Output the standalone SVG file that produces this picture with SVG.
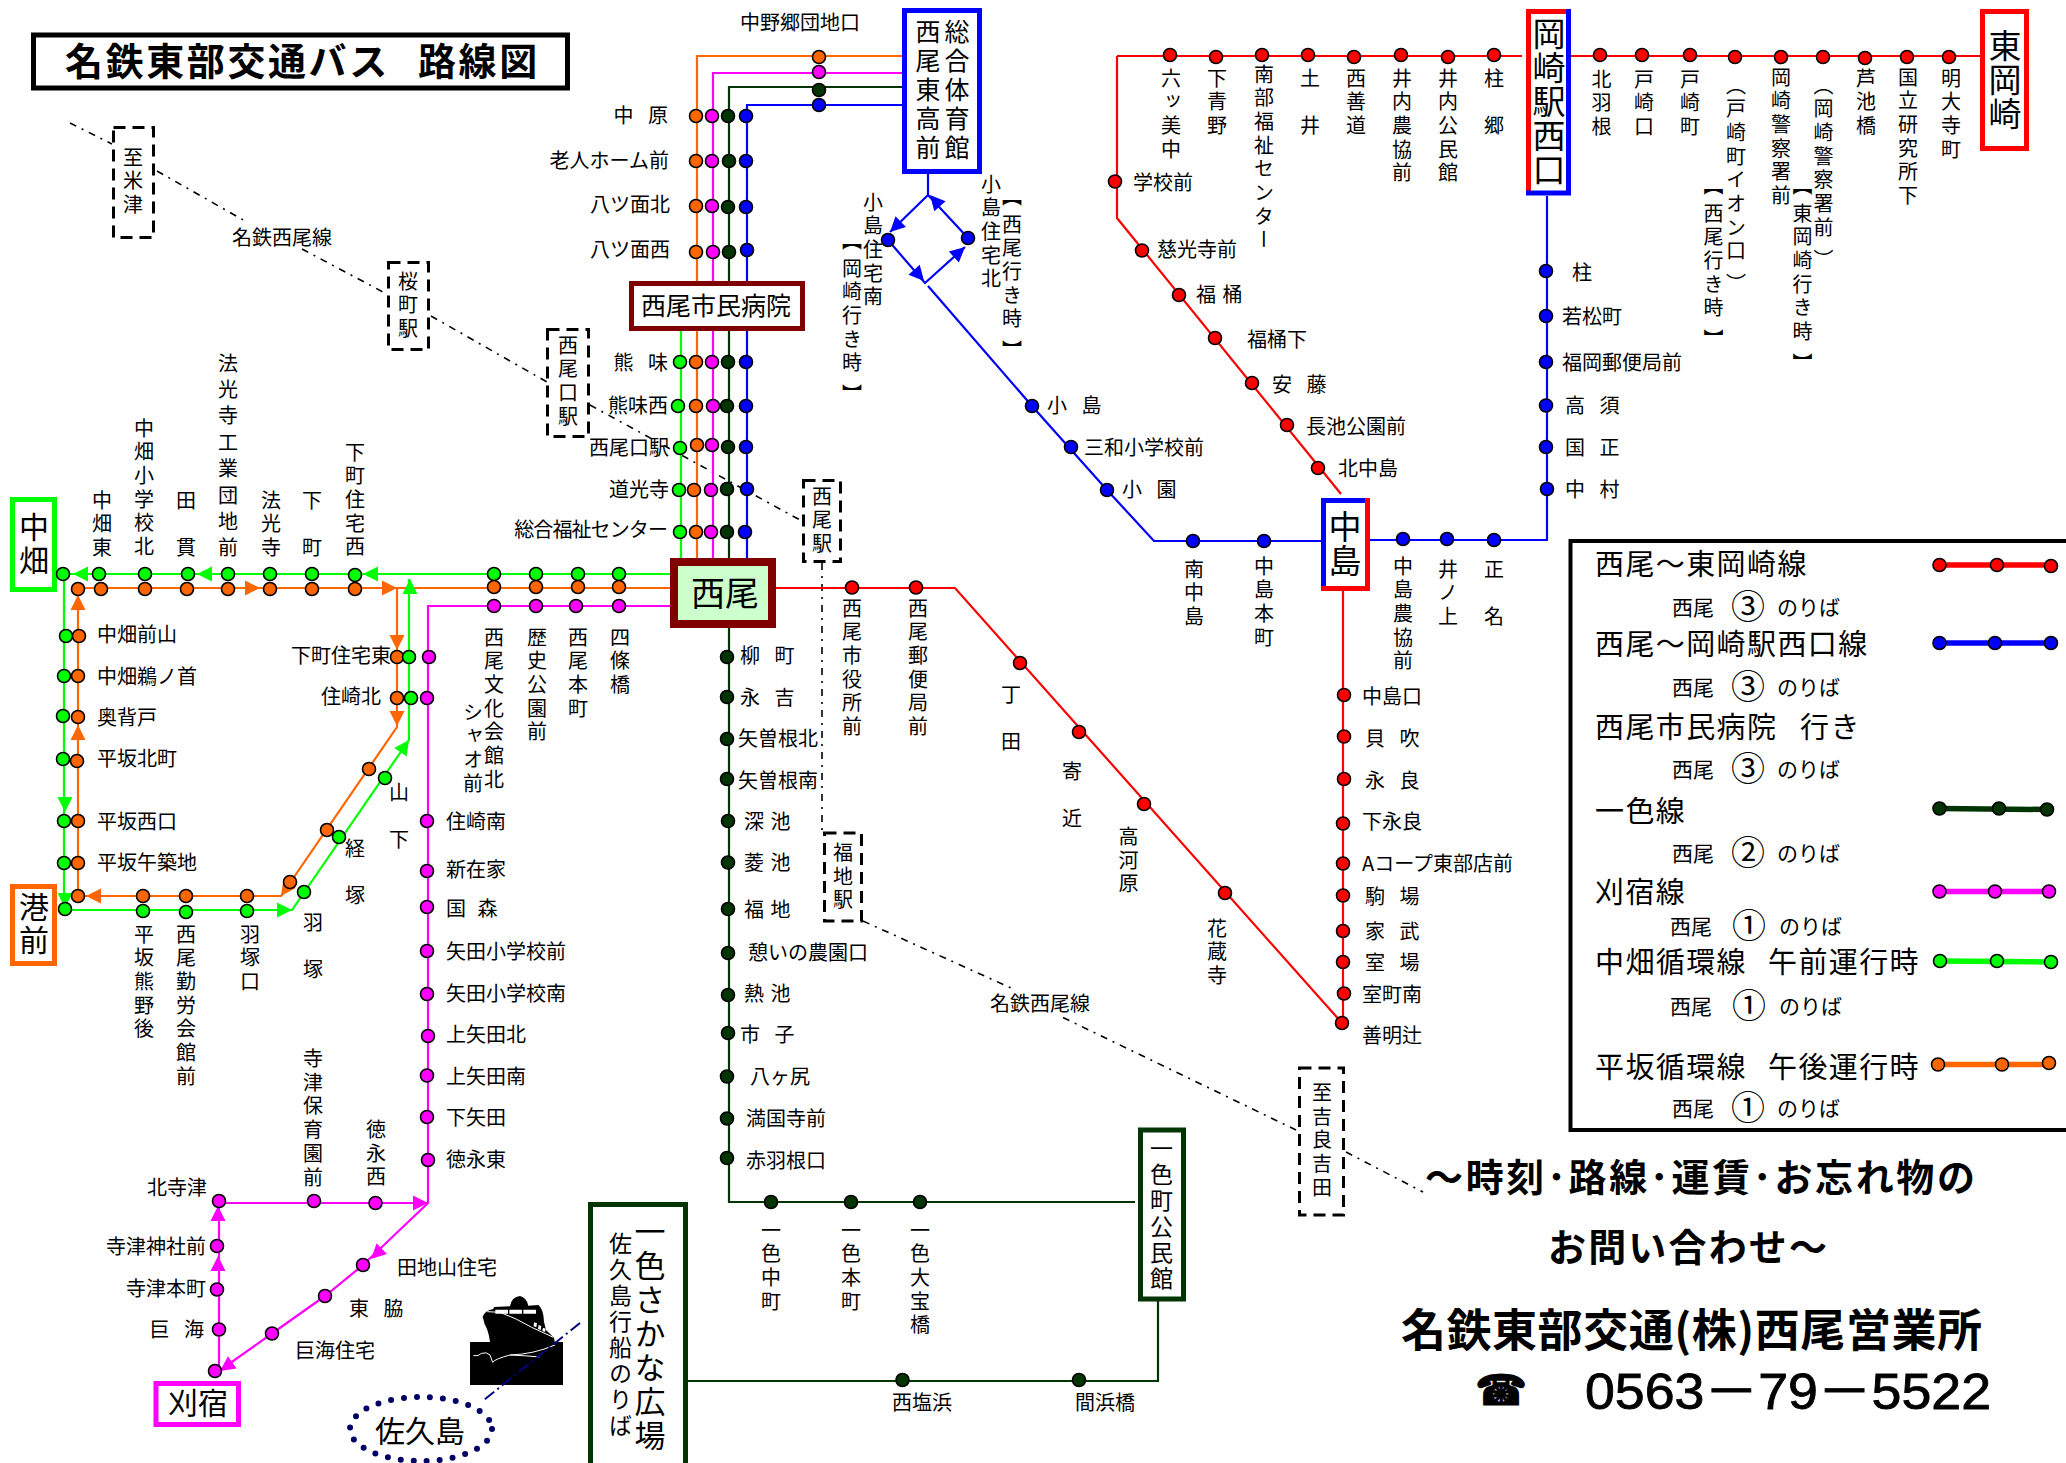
<svg xmlns="http://www.w3.org/2000/svg" width="2066" height="1463" viewBox="0 0 2066 1463">
<style>
text{font-family:"Noto Sans CJK JP","Noto Sans CJK SC",sans-serif;fill:#000;font-size:20px}
.v{writing-mode:vertical-rl;letter-spacing:3.7px}
.w{word-spacing:10px}
.n{word-spacing:2px}
.e{text-anchor:end}
.m{text-anchor:middle}
.l{fill:none;stroke-width:2.2;stroke-linejoin:miter}
.lo{stroke:#f60}.lm{stroke:#f0f}.ld{stroke:#033403}.lb{stroke:#00f}.lg{stroke:#0f0}.lr{stroke:#f00}
.fo{fill:#f60}.fm{fill:#f0f}.fb{fill:#00f}.fg{fill:#0f0}
circle{r:6.5px;stroke:#000;stroke-width:1.6}
.co{fill:#f60}.cm{fill:#f0f}.cd{fill:#033403}.cb{fill:#00f}.cg{fill:#0f0}.cr{fill:#f00}
.box{fill:#fff;stroke-width:5}
.dash{fill:#fff;stroke:#000;stroke-width:3;stroke-dasharray:12 7}
.rail{fill:none;stroke:#000;stroke-width:1.6;stroke-dasharray:7 6 2 6}
.lg2{stroke-width:5.5;fill:none}
.tt{font-size:29px;letter-spacing:1.4px}
.s{font-size:21px}
.ci{font-size:34px;text-anchor:middle}
.hd{font-size:38px;font-weight:700}
</style>
<defs><path id="ah" d="M0 0L-15-7.5V7.5Z"/></defs>
<rect width="2066" height="1463" fill="#fff"/>

<g id="title"><rect x="33.500" y="35" width="534" height="53" fill="#fff" stroke="#000" stroke-width="5"/>
<text x="65" y="75" style="font-size:38px;font-weight:700;letter-spacing:2.6px">名鉄東部交通バス</text>
<text x="418" y="75" style="font-size:38px;font-weight:700;letter-spacing:2.6px">路線図</text></g>

<g id="railway">
<path class="rail" d="M70 123L112 144M157 171L245 221M302 249L383 292M431 316L547 382M590 405L800 520M822 563V831M863 921L1011 988M1063 1017.500L1296 1130M1346 1152L1423 1192"/>
<text x="232" y="245">名鉄西尾線</text>
<text x="990" y="1011">名鉄西尾線</text>
<g id="st-komezu"><rect class="dash" x="113.500" y="127.500" width="40" height="110"/><text class="v" x="133" y="147">至米津</text></g>
<g id="st-sakuramachi"><rect class="dash" x="388.500" y="262.500" width="40" height="87"/><text class="v" x="408" y="271">桜町駅</text></g>
<g id="st-nishiokuchi"><rect class="dash" x="547.500" y="329.500" width="41" height="107"/><text class="v" x="568" y="335">西尾口駅</text></g>
<g id="st-nishio"><rect class="dash" x="803.500" y="480.500" width="37" height="81"/><text class="v" x="822" y="486">西尾駅</text></g>
<g id="st-fukuchi"><rect class="dash" x="824.500" y="833" width="37" height="88"/><text class="v" x="843" y="842.500">福地駅</text></g>
<g id="st-kira"><rect class="dash" x="1299.500" y="1068" width="44" height="147"/><text class="v" x="1322" y="1082.500">至吉良吉田</text></g>
</g>

<g id="connectors">
<path class="l lo" d="M902 56H697V559M671 588H78V896H281L397 727V588"/>
<path class="l lm" d="M902 73H713V559M671 606H428V1203H219V1371M428 1203L363 1265L325 1296L272 1333.500L219 1371"/>
<path class="l ld" d="M902 87H729V559M729 628V1202H1135M687 1381H1158V1301"/>
<path class="l lb" d="M902 105H747V559M928 174V195L890 232M928 195L968 238M888 240L925 283L965 247M928 286L1032 406L1107 490L1154 541H1321M1369 540H1547V196"/>
<path class="l lg" d="M681 331V559M671 574H64V910H292L409 740V579"/>
<path class="l lr" d="M771 588H955L1342 1023M1117 56H1522M1570 56H1980M1117 56V218L1341 494M1343 591V1023"/>
<use href="#ah" class="fo" transform="translate(78 595) rotate(-90)"/>
<use href="#ah" class="fo" transform="translate(78 725) rotate(-90)"/>
<use href="#ah" class="fo" transform="translate(260 588)"/>
<use href="#ah" class="fo" transform="translate(397 588)"/>
<use href="#ah" class="fo" transform="translate(397 650) rotate(90)"/>
<use href="#ah" class="fo" transform="translate(397 726) rotate(90)"/>
<use href="#ah" class="fo" transform="translate(86 896) rotate(180)"/>
<use href="#ah" class="fo" transform="translate(281 896) rotate(124.500)"/>
<use href="#ah" class="fg" transform="translate(73 574) rotate(180)"/>
<use href="#ah" class="fg" transform="translate(197 574) rotate(180)"/>
<use href="#ah" class="fg" transform="translate(363 574) rotate(180)"/>
<use href="#ah" class="fg" transform="translate(410 579) rotate(-90)"/>
<use href="#ah" class="fg" transform="translate(65 812) rotate(90)"/>
<use href="#ah" class="fg" transform="translate(65 908) rotate(90)"/>
<use href="#ah" class="fg" transform="translate(292 910)"/>
<use href="#ah" class="fg" transform="translate(409 740) rotate(-55.500)"/>
<use href="#ah" class="fm" transform="translate(428 1203)"/>
<use href="#ah" class="fm" transform="translate(371 1259) rotate(136)"/>
<use href="#ah" class="fm" transform="translate(220 1371) rotate(145)"/>
<use href="#ah" class="fm" transform="translate(218 1206) rotate(-90)"/>
<use href="#ah" class="fm" transform="translate(218 1256) rotate(-90)"/>
<use href="#ah" class="fb" transform="translate(890 232) rotate(135.700)"/>
<use href="#ah" class="fb" transform="translate(930 195) rotate(228.500)"/>
<use href="#ah" class="fb" transform="translate(924 281) rotate(48.700)"/>
<use href="#ah" class="fb" transform="translate(965 247) rotate(-42)"/>
</g>

<g id="n-sogo"><rect class="box" x="904.500" y="10.500" width="75" height="161" stroke="#00f"/>
<text class="v" x="928" y="19" style="font-size:25px;letter-spacing:4px">西尾東高前</text>
<text class="v" x="957" y="19" style="font-size:25px;letter-spacing:4px">総合体育館</text></g>
<g id="n-hospital"><rect class="box" x="631.500" y="283.500" width="171" height="45" stroke="#800000"/>
<text x="641" y="315" style="font-size:25px">西尾市民病院</text></g>
<g id="n-nishio"><rect x="674" y="562" width="98" height="62" fill="#cfc" stroke="#800000" stroke-width="8"/>
<text x="725" y="606" class="m" style="font-size:34px">西尾</text></g>
<g id="n-nakahata"><rect class="box" x="12.500" y="499.500" width="42" height="90" stroke="#0f0"/><text class="v" x="34" y="512" style="font-size:30px;letter-spacing:3px">中畑</text></g>
<g id="n-minatomae"><rect class="box" x="12.500" y="886.500" width="42" height="77" stroke="#f60"/><text class="v" x="34" y="892" style="font-size:30px;letter-spacing:3px">港前</text></g>
<g id="n-karisuku"><rect class="box" x="156" y="1383.500" width="82.500" height="41" stroke="#f0f"/><text x="198" y="1414" class="m" style="font-size:30px">刈宿</text></g>
<g id="n-okazakinishi"><path d="M1528.500 195V11.500H1568.500V193H1526" fill="#fff" stroke="none"/><path d="M1528.500 195V11.500H1568.500" fill="none" stroke="#f00" stroke-width="5"/><path d="M1568.500 9V193H1526" fill="none" stroke="#00f" stroke-width="5"/><text class="v" x="1549" y="17" style="font-size:33px;letter-spacing:1px">岡崎駅西口</text></g>
<g id="n-higashiokazaki"><rect class="box" x="1982.500" y="11.500" width="44" height="137" stroke="#f00"/><text class="v" x="2005" y="29" style="font-size:33px;letter-spacing:1px">東岡崎</text></g>
<g id="n-nakajima"><rect x="1323.500" y="500.500" width="44" height="88" fill="#fff"/><path d="M1323.500 591V500.500H1370" fill="none" stroke="#00f" stroke-width="5"/><path d="M1367.500 498V588.500H1321" fill="none" stroke="#f00" stroke-width="5"/><text class="v" x="1345" y="510" style="font-size:33px;letter-spacing:1px">中島</text></g>
<g id="n-isshikicc"><rect class="box" x="1140.500" y="1130" width="43" height="169" stroke="#033403"/><text class="v" x="1161.500" y="1137" style="font-size:23px;letter-spacing:3px">一色町公民館</text></g>
<g id="n-sakanahiroba"><rect class="box" x="590.500" y="1204.500" width="95" height="280" stroke="#033403"/>
<text class="v" x="650" y="1216" style="font-size:31px;letter-spacing:3px">一色さかな広場</text>
<text class="v" x="620.500" y="1232" style="font-size:23px;letter-spacing:3px">佐久島行船のりば</text></g>

<g id="n-ship"><rect x="470" y="1342" width="93" height="43" fill="#000"/>
<g transform="translate(460 1285) scale(.3333)">
<path d="M68 95Q76 76 100 72L102 66L150 64Q155 35 180 33Q200 38 205 62L235 60Q250 70 252 110L258 135L282 158L285 175Q270 195 240 208L160 215L100 235L90 170Q85 135 74 118Z" fill="#000"/>
<path d="M106 74H144V86H106ZM148 74H186V86H148ZM190 74H228V86H190ZM222 112l9 3-2 12-8-3ZM236 120l8 3-2 12-8-3ZM249 128l8 3-2 10-8-3Z" fill="#fff"/>
<path d="M82 80L120 82Q170 100 215 127L280 157M40 212Q55 215 65 205Q80 200 90 210L98 232Q105 222 150 210Q220 208 285 180M150 210Q200 212 238 216" fill="none" stroke="#fff" stroke-width="3"/>
</g></g>
<path id="ferry" d="M580 1323L484 1400" fill="none" stroke="#000080" stroke-width="2" stroke-dasharray="12 4 2 4"/>
<g id="n-sakushima"><ellipse cx="421" cy="1429" rx="71" ry="32" fill="#fff" stroke="#006" stroke-width="6" stroke-dasharray="0 13" stroke-linecap="round"/><text x="420" y="1442" class="m" style="font-size:30px">佐久島</text></g>

<!-- trunk stops -->
<g id="n-nakanogo"><circle class="co" cx="819" cy="57"/><circle class="cm" cx="819" cy="72"/><circle class="cd" cx="819" cy="90"/><circle class="cb" cx="819" cy="105"/><text x="740" y="29.500">中野郷団地口</text></g>
<g id="n-nakahara"><circle class="co" cx="696" cy="116"/><circle class="cm" cx="712" cy="116"/><circle class="cd" cx="728" cy="116"/><circle class="cb" cx="746" cy="116"/><text class="e w" x="668" y="122.500">中 原</text></g>
<g id="n-rojin"><circle class="co" cx="696" cy="161"/><circle class="cm" cx="712" cy="161"/><circle class="cd" cx="729" cy="161"/><circle class="cb" cx="746" cy="161"/><text class="e" x="669" y="167.500">老人ホーム前</text></g>
<g id="n-yatsuomote-n"><circle class="co" cx="696" cy="206"/><circle class="cm" cx="712" cy="206"/><circle class="cd" cx="728" cy="207"/><circle class="cb" cx="746" cy="207"/><text class="e" x="670" y="211.500">八ツ面北</text></g>
<g id="n-yatsuomote-w"><circle class="co" cx="696" cy="252"/><circle class="cm" cx="713" cy="252"/><circle class="cd" cx="729" cy="252"/><circle class="cb" cx="747" cy="250"/><text class="e" x="670" y="256.500">八ツ面西</text></g>
<g id="n-kumami"><circle class="cg" cx="680" cy="362"/><circle class="co" cx="696" cy="362"/><circle class="cm" cx="712" cy="362"/><circle class="cd" cx="728" cy="362"/><circle class="cb" cx="746" cy="362"/><text class="e w" x="668" y="369.500">熊 味</text></g>
<g id="n-kumamiw"><circle class="cg" cx="678" cy="406"/><circle class="co" cx="696" cy="406"/><circle class="cm" cx="713" cy="406"/><circle class="cd" cx="727" cy="406"/><circle class="cb" cx="746" cy="406"/><text class="e" x="668" y="412.500">熊味西</text></g>
<g id="n-nishiokuchi"><circle class="cg" cx="680" cy="448"/><circle class="co" cx="697" cy="445"/><circle class="cm" cx="712" cy="445"/><circle class="cd" cx="728" cy="447"/><circle class="cb" cx="746" cy="447"/><text class="e" x="669" y="454.500">西尾口駅</text></g>
<g id="n-dokoji"><circle class="cg" cx="679" cy="490"/><circle class="co" cx="694" cy="490"/><circle class="cm" cx="711" cy="490"/><circle class="cd" cx="727" cy="489"/><circle class="cb" cx="747" cy="489"/><text class="e" x="669" y="496.500">道光寺</text></g>
<g id="n-fukushi"><circle class="cg" cx="680" cy="532"/><circle class="co" cx="696" cy="532"/><circle class="cm" cx="711" cy="532"/><circle class="cd" cx="727" cy="532"/><circle class="cb" cx="745" cy="532"/><text class="e" x="667" y="536.500" style="letter-spacing:-.9px">総合福祉センター</text></g>

<!-- west row -->
<g id="n-w-higashi"><circle class="cg" cx="99" cy="574"/><circle class="co" cx="101" cy="589"/><text class="v" x="102" y="490">中畑東</text></g>
<g id="n-w-corner"><circle class="cg" cx="63" cy="574"/><circle class="co" cx="78" cy="589"/></g>
<g id="n-w-shogaku"><circle class="cg" cx="145" cy="574"/><circle class="co" cx="145" cy="589"/><text class="v" x="144" y="418">中畑小学校北</text></g>
<g id="n-w-tanuki"><circle class="cg" cx="188" cy="574"/><circle class="co" cx="187" cy="589"/><text class="v" x="186" y="490">田　貫</text></g>
<g id="n-w-hoko-k"><circle class="cg" cx="228" cy="574"/><circle class="co" cx="228" cy="589"/><text class="v" x="228" y="353" style="letter-spacing:6.400px">法光寺工業団地前</text></g>
<g id="n-w-hoko"><circle class="cg" cx="270" cy="574"/><circle class="co" cx="270" cy="589"/><text class="v" x="271" y="490">法光寺</text></g>
<g id="n-w-shimo"><circle class="cg" cx="312" cy="574"/><circle class="co" cx="312" cy="589"/><text class="v" x="312" y="490">下　町</text></g>
<g id="n-w-shimoj"><circle class="cg" cx="355" cy="575"/><circle class="co" cx="355" cy="589"/><text class="v" x="355" y="442">下町住宅西</text></g>
<g id="n-w-yotsu"><circle class="cg" cx="619" cy="574"/><circle class="co" cx="619" cy="587"/><circle class="cm" cx="619" cy="606"/><text class="v" x="620" y="627">四條橋</text></g>
<g id="n-w-honmachi"><circle class="cg" cx="578" cy="574"/><circle class="co" cx="578" cy="587"/><circle class="cm" cx="576" cy="606"/><text class="v" x="578" y="627">西尾本町</text></g>
<g id="n-w-rekishi"><circle class="cg" cx="536" cy="574"/><circle class="co" cx="536" cy="587"/><circle class="cm" cx="536" cy="606"/><text class="v" x="537" y="627">歴史公園前</text></g>
<g id="n-w-bunka"><circle class="cg" cx="494" cy="574"/><circle class="co" cx="494" cy="587"/><circle class="cm" cx="494" cy="606"/><text class="v" x="494" y="627">西尾文化会館北</text><text class="v" x="473" y="702">シャオ前</text></g>

<!-- loop west column -->
<g id="n-l1"><circle class="cg" cx="66" cy="636"/><circle class="co" cx="79" cy="636"/><text x="97" y="641.500">中畑前山</text></g>
<g id="n-l2"><circle class="cg" cx="64" cy="676"/><circle class="co" cx="78" cy="676"/><text x="97" y="683.500">中畑鵜ノ首</text></g>
<g id="n-l3"><circle class="cg" cx="63" cy="716"/><circle class="co" cx="78" cy="717"/><text x="97" y="724.500">奥背戸</text></g>
<g id="n-l4"><circle class="cg" cx="63" cy="759"/><circle class="co" cx="77" cy="761"/><text x="97" y="765.500">平坂北町</text></g>
<g id="n-l5"><circle class="cg" cx="64" cy="821"/><circle class="co" cx="78" cy="821"/><text x="97" y="828.500">平坂西口</text></g>
<g id="n-l6"><circle class="cg" cx="64" cy="863"/><circle class="co" cx="78" cy="863"/><text x="97" y="869.500">平坂午築地</text></g>
<g id="n-l7"><circle class="co" cx="78" cy="896"/><circle class="cg" cx="65" cy="909"/></g>
<g id="n-b1"><circle class="co" cx="143" cy="896"/><circle class="cg" cx="143" cy="911"/><text class="v" x="144" y="924">平坂熊野後</text></g>
<g id="n-b2"><circle class="co" cx="186" cy="896"/><circle class="cg" cx="186" cy="912"/><text class="v" x="186" y="924">西尾勤労会館前</text></g>
<g id="n-b3"><circle class="co" cx="247" cy="896"/><circle class="cg" cx="247" cy="911"/><text class="v" x="250" y="924">羽塚口</text></g>
<g id="n-d1"><circle class="co" cx="290" cy="882"/><circle class="cg" cx="304" cy="892"/><text class="v" x="313" y="912">羽　塚</text></g>
<g id="n-d2"><circle class="co" cx="327" cy="830"/><circle class="cg" cx="339" cy="837"/><text class="v" x="355" y="838">経　塚</text></g>
<g id="n-d3"><circle class="co" cx="369" cy="769"/><circle class="cg" cx="385" cy="778"/><text class="v" x="399" y="782">山　下</text></g>
<g id="n-r1"><circle class="co" cx="397" cy="657"/><circle class="cg" cx="409" cy="657"/><circle class="cm" cx="429" cy="657"/><text class="e" x="391" y="662.500">下町住宅東</text></g>
<g id="n-r2"><circle class="co" cx="397" cy="698"/><circle class="cg" cx="411" cy="698"/><circle class="cm" cx="427" cy="698"/><text class="e" x="381" y="703.500">住崎北</text></g>

<!-- magenta -->
<g id="n-m1"><circle class="cm" cx="427" cy="821"/><text x="446" y="828.500">住崎南</text></g>
<g id="n-m2"><circle class="cm" cx="427" cy="871"/><text x="446" y="876.500">新在家</text></g>
<g id="n-m3"><circle class="cm" cx="427" cy="907"/><text class="w" x="446" y="915.500" style="word-spacing:7px">国 森</text></g>
<g id="n-m4"><circle class="cm" cx="427" cy="951"/><text x="446" y="958.500">矢田小学校前</text></g>
<g id="n-m5"><circle class="cm" cx="427" cy="994"/><text x="446" y="1001">矢田小学校南</text></g>
<g id="n-m6"><circle class="cm" cx="428" cy="1036"/><text x="446" y="1042">上矢田北</text></g>
<g id="n-m7"><circle class="cm" cx="427" cy="1075.500"/><text x="446" y="1084">上矢田南</text></g>
<g id="n-m8"><circle class="cm" cx="427" cy="1117"/><text x="446" y="1125">下矢田</text></g>
<g id="n-m9"><circle class="cm" cx="428" cy="1160"/><text x="446" y="1166.500">徳永東</text></g>
<g id="n-m10"><circle class="cm" cx="219" cy="1201"/><text class="e" x="207" y="1194.500">北寺津</text></g>
<g id="n-m11"><circle class="cm" cx="314" cy="1201"/><text class="v" x="313" y="1048.500">寺津保育園前</text></g>
<g id="n-m12"><circle class="cm" cx="375.500" cy="1203"/><text class="v" x="376" y="1119.500">徳永西</text></g>
<g id="n-m13"><circle class="cm" cx="217" cy="1246"/><text class="e" x="206" y="1253.500">寺津神社前</text></g>
<g id="n-m14"><circle class="cm" cx="217" cy="1289.500"/><text class="e" x="206" y="1296">寺津本町</text></g>
<g id="n-m15"><circle class="cm" cx="219" cy="1329.500"/><text class="e w" x="204" y="1337">巨 海</text></g>
<g id="n-m16"><circle class="cm" cx="363" cy="1265"/><text x="397" y="1275">田地山住宅</text></g>
<g id="n-m17"><circle class="cm" cx="325" cy="1296"/><text class="w" x="349" y="1316">東 脇</text></g>
<g id="n-m18"><circle class="cm" cx="272" cy="1333.500"/><text x="295" y="1358">巨海住宅</text></g>
<g id="n-m19"><circle class="cm" cx="215" cy="1371"/></g>

<!-- isshiki -->
<g id="n-i1"><circle class="cd" cx="727" cy="657"/><text class="w" x="740" y="662.500">柳 町</text></g>
<g id="n-i2"><circle class="cd" cx="727" cy="697"/><text class="w" x="740" y="704.500">永 吉</text></g>
<g id="n-i3"><circle class="cd" cx="727" cy="739"/><text x="738" y="745.500">矢曽根北</text></g>
<g id="n-i4"><circle class="cd" cx="727" cy="779"/><text x="738" y="787.500">矢曽根南</text></g>
<g id="n-i5"><circle class="cd" cx="728" cy="821"/><text class="n" x="744" y="828.500">深 池</text></g>
<g id="n-i6"><circle class="cd" cx="728" cy="862.500"/><text class="n" x="744" y="870">菱 池</text></g>
<g id="n-i7"><circle class="cd" cx="728" cy="909"/><text class="n" x="744" y="916.500">福 地</text></g>
<g id="n-i8"><circle class="cd" cx="728" cy="953"/><text x="748" y="959.500">憩いの農園口</text></g>
<g id="n-i9"><circle class="cd" cx="728" cy="995"/><text class="n" x="744" y="1000.500">熱 池</text></g>
<g id="n-i10"><circle class="cd" cx="728" cy="1033"/><text class="w" x="740" y="1042">市 子</text></g>
<g id="n-i11"><circle class="cd" cx="727" cy="1076.500"/><text x="750" y="1084">八ヶ尻</text></g>
<g id="n-i12"><circle class="cd" cx="727" cy="1118.500"/><text x="746" y="1126">満国寺前</text></g>
<g id="n-i13"><circle class="cd" cx="727" cy="1158"/><text x="746" y="1167.500">赤羽根口</text></g>
<g id="n-i14"><circle class="cd" cx="771" cy="1202"/><text class="v" x="771" y="1220">一色中町</text></g>
<g id="n-i15"><circle class="cd" cx="851" cy="1202"/><text class="v" x="851" y="1220">一色本町</text></g>
<g id="n-i16"><circle class="cd" cx="920" cy="1202"/><text class="v" x="920" y="1220">一色大宝橋</text></g>
<g id="n-i17"><circle class="cd" cx="902.500" cy="1380"/><text class="m" x="922" y="1410">西塩浜</text></g>
<g id="n-i18"><circle class="cd" cx="1079" cy="1380"/><text class="m" x="1105" y="1410">間浜橋</text></g>

<!-- red east -->
<g id="n-e1"><circle class="cr" cx="852" cy="587.500"/><text class="v" x="852" y="598">西尾市役所前</text></g>
<g id="n-e2"><circle class="cr" cx="916" cy="587.500"/><text class="v" x="918" y="598">西尾郵便局前</text></g>
<g id="n-e3"><circle class="cr" cx="1020" cy="663"/><text class="v" x="1011" y="684">丁　田</text></g>
<g id="n-e4"><circle class="cr" cx="1079" cy="732"/><text class="v" x="1072" y="761">寄　近</text></g>
<g id="n-e5"><circle class="cr" cx="1144" cy="804"/><text class="v" x="1128.500" y="826.500">高河原</text></g>
<g id="n-e6"><circle class="cr" cx="1225" cy="893"/><text class="v" x="1217" y="918">花蔵寺</text></g>
<g id="n-e7"><circle class="cr" cx="1342" cy="1023"/><text x="1362" y="1043">善明辻</text></g>
<g id="n-s1"><circle class="cr" cx="1344" cy="695"/><text x="1362" y="703.500">中島口</text></g>
<g id="n-s2"><circle class="cr" cx="1344" cy="736.500"/><text class="w" x="1365" y="745.500">貝 吹</text></g>
<g id="n-s3"><circle class="cr" cx="1344" cy="779"/><text class="w" x="1365" y="787.500">永 良</text></g>
<g id="n-s4"><circle class="cr" cx="1343" cy="823.500"/><text x="1362" y="829">下永良</text></g>
<g id="n-s5"><circle class="cr" cx="1343" cy="863.500"/><text x="1362" y="871">Aコープ東部店前</text></g>
<g id="n-s6"><circle class="cr" cx="1343" cy="895.500"/><text class="w" x="1365" y="904">駒 場</text></g>
<g id="n-s7"><circle class="cr" cx="1343" cy="931"/><text class="w" x="1365" y="939">家 武</text></g>
<g id="n-s8"><circle class="cr" cx="1343" cy="962"/><text class="w" x="1365" y="969.500">室 場</text></g>
<g id="n-s9"><circle class="cr" cx="1344" cy="993.500"/><text x="1362" y="1001.500">室町南</text></g>

<!-- red north -->
<g id="n-t1"><circle class="cr" cx="1170" cy="55"/><text class="v" x="1171" y="68">六ッ美中</text></g>
<g id="n-t2"><circle class="cr" cx="1216" cy="57"/><text class="v" x="1217" y="68">下青野</text></g>
<g id="n-t3"><circle class="cr" cx="1262" cy="55"/><text class="v" x="1264" y="64">南部福祉センター</text></g>
<g id="n-t4"><circle class="cr" cx="1308" cy="55"/><text class="v" x="1310" y="68">土　井</text></g>
<g id="n-t5"><circle class="cr" cx="1354" cy="57"/><text class="v" x="1356" y="68">西善道</text></g>
<g id="n-t6"><circle class="cr" cx="1401" cy="55"/><text class="v" x="1402" y="68">井内農協前</text></g>
<g id="n-t7"><circle class="cr" cx="1448" cy="57"/><text class="v" x="1448" y="68">井内公民館</text></g>
<g id="n-t8"><circle class="cr" cx="1494" cy="55"/><text class="v" x="1494" y="68">柱　郷</text></g>
<g id="n-t9"><circle class="cr" cx="1600" cy="55"/><text class="v" x="1601.500" y="69">北羽根</text></g>
<g id="n-t10"><circle class="cr" cx="1642" cy="55"/><text class="v" x="1644" y="69">戸崎口</text></g>
<g id="n-t11"><circle class="cr" cx="1690" cy="55"/><text class="v" x="1690" y="69">戸崎町</text></g>
<g id="n-t12"><circle class="cr" cx="1735" cy="57"/><text class="v" x="1736" y="75">（戸崎町イオン口<tspan dy="8">）</tspan></text><text class="v" x="1713.500" y="175">【<tspan dy="4">西尾行き時</tspan><tspan dy="8">】</tspan></text></g>
<g id="n-t13"><circle class="cr" cx="1781" cy="57"/><text class="v" x="1781" y="67">岡崎警察署前</text><text class="v" x="1802.500" y="175">【<tspan dy="4">東岡崎行き時</tspan><tspan dy="8">】</tspan></text></g>
<g id="n-t14"><circle class="cr" cx="1823" cy="57"/><text class="v" x="1823.500" y="75">（岡崎警察署前<tspan dy="8">）</tspan></text></g>
<g id="n-t15"><circle class="cr" cx="1865" cy="58"/><text class="v" x="1866" y="68">芦池橋</text></g>
<g id="n-t16"><circle class="cr" cx="1907" cy="57"/><text class="v" x="1908" y="67">国立研究所下</text></g>
<g id="n-t17"><circle class="cr" cx="1949" cy="57"/><text class="v" x="1951" y="68">明大寺町</text></g>
<g id="n-t18"><circle class="cr" cx="1115" cy="181.500"/><text x="1133" y="190">学校前</text></g>
<g id="n-t19"><circle class="cr" cx="1142" cy="250.500"/><text x="1157" y="256.500">慈光寺前</text></g>
<g id="n-t20"><circle class="cr" cx="1179" cy="295"/><text class="n" x="1196" y="301.500">福 桶</text></g>
<g id="n-t21"><circle class="cr" cx="1215" cy="338"/><text x="1247" y="346.500">福桶下</text></g>
<g id="n-t22"><circle class="cr" cx="1252" cy="383"/><text class="w" x="1272" y="391.500">安 藤</text></g>
<g id="n-t23"><circle class="cr" cx="1287" cy="425"/><text x="1306" y="433.500">長池公園前</text></g>
<g id="n-t24"><circle class="cr" cx="1318" cy="468"/><text x="1338" y="475.500">北中島</text></g>

<!-- blue -->
<g id="n-k1"><circle class="cb" cx="888" cy="240"/><text class="v" x="873" y="192">小島住宅南</text><text class="v" x="852" y="230">【<tspan dy="4">岡崎行き時</tspan><tspan dy="8">】</tspan></text></g>
<g id="n-k2"><circle class="cb" cx="968" cy="238"/><text class="v" x="991" y="174">小島住宅北</text><text class="v" x="1012" y="186">【<tspan dy="4">西尾行き時</tspan><tspan dy="8">】</tspan></text></g>
<g id="n-k3"><circle class="cb" cx="1032" cy="406"/><text class="w" x="1047" y="412.500">小 島</text></g>
<g id="n-k4"><circle class="cb" cx="1071" cy="447"/><text x="1084" y="454.500">三和小学校前</text></g>
<g id="n-k5"><circle class="cb" cx="1107" cy="490"/><text class="w" x="1122" y="496.500">小 園</text></g>
<g id="n-k6"><circle class="cb" cx="1193" cy="541"/><text class="v" x="1194" y="559">南中島</text></g>
<g id="n-k7"><circle class="cb" cx="1264" cy="541"/><text class="v" x="1264" y="556">中島本町</text></g>
<g id="n-k8"><circle class="cb" cx="1403" cy="539"/><text class="v" x="1403" y="556">中島農協前</text></g>
<g id="n-k9"><circle class="cb" cx="1447" cy="539"/><text class="v" x="1448" y="559">井ノ上</text></g>
<g id="n-k10"><circle class="cb" cx="1494" cy="540"/><text class="v" x="1494" y="559">正　名</text></g>
<g id="n-k11"><circle class="cb" cx="1546" cy="271"/><text x="1572" y="279.500">柱</text></g>
<g id="n-k12"><circle class="cb" cx="1546" cy="316"/><text x="1562" y="324">若松町</text></g>
<g id="n-k13"><circle class="cb" cx="1546" cy="362"/><text x="1562" y="369.500">福岡郵便局前</text></g>
<g id="n-k14"><circle class="cb" cx="1546" cy="405.500"/><text class="w" x="1565" y="412.500">高 須</text></g>
<g id="n-k15"><circle class="cb" cx="1546" cy="447"/><text class="w" x="1565" y="454.500">国 正</text></g>
<g id="n-k16"><circle class="cb" cx="1547" cy="489"/><text class="w" x="1565" y="496.500">中 村</text></g>

<g id="legend">
<rect x="1570.500" y="541" width="520" height="589" fill="none" stroke="#000" stroke-width="4"/>
<g id="lg-red"><text class="tt" x="1595" y="575">西尾～東岡崎線</text><path class="lg2 lr" d="M1939.500 565H2051"/><circle class="cr" cx="1939.500" cy="565"/><circle class="cr" cx="1997" cy="565"/><circle class="cr" cx="2051" cy="566"/>
<text class="s" x="1672" y="615">西尾</text><text class="ci" x="1748" y="619">③</text><text class="s" x="1777" y="615">のりば</text></g>
<g id="lg-blue"><text class="tt" x="1595" y="655">西尾～岡崎駅西口線</text><path class="lg2 lb" d="M1939.500 643H2051"/><circle class="cb" cx="1939.500" cy="643"/><circle class="cb" cx="1995" cy="643"/><circle class="cb" cx="2051" cy="643"/>
<text class="s" x="1672" y="695">西尾</text><text class="ci" x="1748" y="699">③</text><text class="s" x="1777" y="695">のりば</text></g>
<g id="lg-hosp"><text class="tt" x="1595" y="738">西尾市民病院</text><text class="tt" x="1800" y="738">行き</text>
<text class="s" x="1672" y="777">西尾</text><text class="ci" x="1748" y="781">③</text><text class="s" x="1777" y="777">のりば</text></g>
<g id="lg-dark"><text class="tt" x="1595" y="822">一色線</text><path class="lg2 ld" d="M1939.500 808.500L2047 809.500"/><circle class="cd" cx="1939.500" cy="808.500"/><circle class="cd" cx="1999" cy="808.500"/><circle class="cd" cx="2047" cy="809.500"/>
<text class="s" x="1672" y="861">西尾</text><text class="ci" x="1748" y="865">②</text><text class="s" x="1777" y="861">のりば</text></g>
<g id="lg-mag"><text class="tt" x="1595" y="903">刈宿線</text><path class="lg2 lm" d="M1939.500 891.500H2049"/><circle class="cm" cx="1939.500" cy="891.500"/><circle class="cm" cx="1995" cy="891.500"/><circle class="cm" cx="2049" cy="891.500"/>
<text class="s" x="1670" y="934">西尾</text><text class="ci" x="1749" y="938">①</text><text class="s" x="1779" y="934">のりば</text></g>
<g id="lg-green"><text class="tt" x="1595" y="973">中畑循環線</text><text class="tt" x="1768" y="973">午前運行時</text><path class="lg2 lg" d="M1940 961L2051 962"/><circle class="cg" cx="1940" cy="961"/><circle class="cg" cx="1997" cy="961"/><circle class="cg" cx="2051" cy="962"/>
<text class="s" x="1670" y="1013.500">西尾</text><text class="ci" x="1749" y="1017.500">①</text><text class="s" x="1779" y="1013.500">のりば</text></g>
<g id="lg-orange"><text class="tt" x="1595" y="1077.500">平坂循環線</text><text class="tt" x="1768" y="1077.500">午後運行時</text><path class="lg2 lo" d="M1938 1064.500H2049"/><circle class="co" cx="1938" cy="1064.500"/><circle class="co" cx="2002" cy="1064.500"/><circle class="co" cx="2049" cy="1063"/>
<text class="s" x="1672" y="1116">西尾</text><text class="ci" x="1748" y="1120">①</text><text class="s" x="1777" y="1116">のりば</text></g>
</g>

<g id="footer">
<text class="hd" x="1425" y="1191" textLength="550">～時刻･路線･運賃･お忘れ物の</text>
<text class="hd" x="1548" y="1261" textLength="279">お問い合わせ～</text>
<text x="1401" y="1347" textLength="581" style="font-size:45px;font-weight:700">名鉄東部交通(株)西尾営業所</text>
<text x="1475" y="1405" style="font-family:'DejaVu Sans',sans-serif;font-size:42px;stroke:#000;stroke-width:1.2">☎</text>
<text x="1585" y="1409" textLength="406" lengthAdjust="spacingAndGlyphs" style="font-family:'Liberation Sans','Noto Sans CJK JP',sans-serif;font-size:50px;stroke:#000;stroke-width:.8">0563－79－5522</text>
</g>
</svg>
